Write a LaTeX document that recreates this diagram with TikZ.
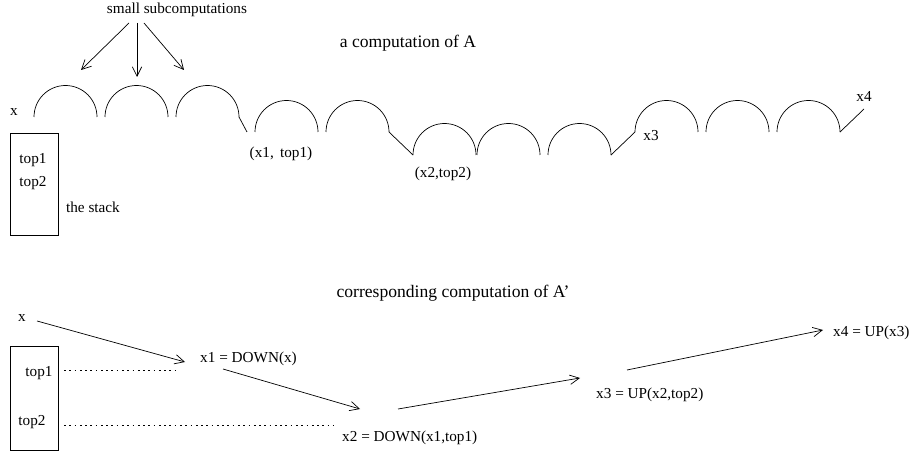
\documentclass[tikz,border=0pt]{standalone}
\usepackage{fontspec}
\setmainfont{Liberation Serif}
\usetikzlibrary{arrows.meta,positioning}

\begin{document}
\begin{tikzpicture}[
    x=0.03cm, y=-0.03cm,
    lbl/.style={font=\fontsize{13}{15}\selectfont, inner sep=0pt},
    heading/.style={font=\fontsize{15}{18}\selectfont, inner sep=0pt},
    hump/.style={line width=0.6pt},
    dots/.style={dash pattern=on 1.5pt off 3pt, line width=0.6pt},
    >={Straight Barb[length=8pt,width=8pt]}
]
\useasboundingbox (0,0) rectangle (912,454);

% a computation of A
\node[heading] (compA) at (408,43) {a computation of A};
\node[lbl] (subs) at (177,10) {small subcomputations};
\coordinate (subsout) at (137,23);
\coordinate (humpa) at (81,70);
\coordinate (humpb) at (137,77);
\coordinate (humpc) at (184,70);
\draw[->, hump] (subsout) ++(-8,0) -- (humpa);
\draw[->, hump] (subsout) -- (humpb);
\draw[->, hump] (subsout) ++(7,0) -- (humpc);

\foreach \hx/\hy in {34/117,105/117,176/117,255/132,326/132,413/155,477/155,548/155,635/132,706/132,777/132}
  \draw[hump] (\hx,\hy) arc[start angle=180, end angle=360, radius=31.5];
\draw[hump] (239,117) -- (247,132);
\draw[hump] (389,132) -- (413,155);
\draw[hump] (611,155) -- (635,132);
\draw[hump] (840,132) -- (864,109);

\node[lbl] (xa) at (14,112) {x};
\node[lbl] (xonea) at (281,154) {(x1,\, top1)};
\node[lbl] (xtwoa) at (443,174) {(x2,top2)};
\node[lbl] (xthreea) at (651,136) {x3};
\node[lbl] (xfoura) at (864,96) {x4};

\draw[hump] (10,133) rectangle (58,235);
\node[lbl] (topa) at (33,160) {top1};
\node[lbl] (topb) at (33,183) {top2};
\node[lbl] (stacklbl) at (93,207) {the stack};

% corresponding computation of A'
\node[heading] (compAp) at (453,293) {corresponding computation of A'};
\node[lbl] (xb) at (22,318) {x};
\draw[hump] (10,346) rectangle (58,450);
\node[lbl] (topc) at (39,373) {top1};
\node[lbl] (topd) at (32,422) {top2};
\node[lbl, anchor=west] (xone) at (200,359) {x1 = DOWN(x)};
\node[lbl, anchor=west] (xtwo) at (342,438) {x2 = DOWN(x1,top1)};
\node[lbl, anchor=west] (xthree) at (596,395) {x3 = UP(x2,top2)};
\node[lbl, anchor=west] (xfour) at (833,333) {x4 = UP(x3)};

\draw[dots] (64,370) -- (175,370);
\draw[dots] (64,425) -- (334,425);

\draw[->, hump] ([shift={(11,3)}]xb.east) -- ([shift={(-15,3)}]xone.west);
\draw[->, hump] ([shift={(23,10)}]xone.west) -- ([shift={(18,-29)}]xtwo.west);
\draw[->, hump] ([shift={(56,-29)}]xtwo.west) -- ([shift={(-16,-17)}]xthree.west);
\draw[->, hump] ([shift={(31,-25)}]xthree.west) -- ([shift={(-10,-3)}]xfour.west);
\end{tikzpicture}
\end{document}
